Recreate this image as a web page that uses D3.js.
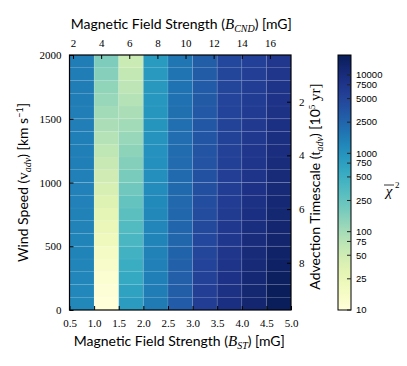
<!DOCTYPE html>
<html>
<head>
<meta charset="utf-8">
<script src="https://cdn.jsdelivr.net/npm/d3@7"></script>
<style>
  body { margin: 0; background: #fff; }
  .tick-num { font-family: "Liberation Serif", serif; font-size: 11px; fill: #000; }
  .label { font-family: "Lato", "DejaVu Sans", sans-serif; font-size: 14px; fill: #000; }
  .cb-num { font-family: "Liberation Sans", sans-serif; font-size: 9.5px; fill: #000; }
</style>
</head>
<body>
<div id="chart"></div>
<script>
// bin edges of the grid
const fieldEdges = [0.5, 1.0, 1.5, 2.0, 2.5, 3.0, 3.5, 4.0, 4.5, 5.0];
const speedEdges = d3.range(0, 2001, 100);

// reduced chi^2 per B_ST column, rows from v=0 (bottom) to v=2000 (top)
const chiCol1 = [1250, 1280, 1300, 1320, 1340, 1360, 1380, 1400, 1420, 1440, 1460, 1480, 1500, 1500, 1520, 1520, 1540, 1550, 1550, 1560];
const chiCol2 = [10, 11, 12, 14, 17, 21, 25, 30, 36, 43, 50, 58, 68, 80, 92, 105, 120, 135, 155, 175];
const chiCol3 = [800, 700, 600, 520, 450, 390, 340, 290, 250, 215, 185, 160, 140, 120, 105, 92, 80, 70, 62, 55];
const chiCol4 = [1600, 1550, 1500, 1450, 1400, 1350, 1300, 1250, 1200, 1150, 1100, 1060, 1020, 980, 950, 920, 900, 880, 860, 840];
const chiCol5 = [3000, 2900, 2800, 2700, 2600, 2500, 2450, 2400, 2350, 2300, 2250, 2200, 2150, 2100, 2050, 2000, 1950, 1900, 1850, 1800];
const chiCol6 = [6000, 5700, 5400, 5100, 4900, 4700, 4500, 4300, 4100, 3900, 3750, 3600, 3500, 3400, 3300, 3200, 3100, 3000, 2950, 2900];
const chiCol7 = [9000, 8600, 8200, 7800, 7400, 7000, 6700, 6400, 6200, 6000, 5800, 5600, 5400, 5300, 5200, 5100, 5000, 4900, 4800, 4700];
const chiCol8 = [12500, 12000, 11500, 11000, 10500, 10000, 9500, 9000, 8600, 8200, 7800, 7500, 7200, 6900, 6600, 6300, 6100, 5900, 5700, 5500];
const chiCol9 = [17500, 17000, 16000, 15000, 14000, 13000, 12500, 12000, 11500, 11000, 10500, 10000, 9600, 9200, 8800, 8400, 8000, 7700, 7400, 7100];
const chiColumns = [chiCol1, chiCol2, chiCol3, chiCol4, chiCol5, chiCol6, chiCol7, chiCol8, chiCol9];

// tick labels
const bstTicks = [0.5, 1.0, 1.5, 2.0, 2.5, 3.0, 3.5, 4.0, 4.5, 5.0];
const bcndTicks = [2, 4, 6, 8, 10, 12, 14, 16];
const speedTicks = [0, 500, 1000, 1500, 2000];
const tadvTicks = [2, 4, 6, 8];
const cbTicks = [10, 25, 50, 75, 100, 250, 500, 750, 1000, 2500, 5000, 7500, 10000];

const width = 407, height = 366;
const plot = { left: 69.5, right: 291, top: 55, bottom: 310 };
const cbar = { left: 338, right: 351 };

const svg = d3.select('#chart')
    .append('svg')
    .attr('width', width)
    .attr('height', height);

const x = d3.scaleLinear().domain([0.5, 5.0]).range([plot.left, plot.right]);
const xTop = d3.scaleLinear().domain([1.75, 17.5]).range([plot.left, plot.right]);
const y = d3.scaleLinear().domain([0, 2000]).range([plot.bottom, plot.top]);
const yRight = d3.scaleLinear().domain([0.26, 9.76]).range([plot.top, plot.bottom]);
const color = d3.scaleSequentialLog(d3.interpolateYlGnBu).domain([10, 18000]);

// cells
const cells = [];
chiColumns.forEach((col, i) => {
    col.forEach((v, j) => {
        cells.push({ x0: fieldEdges[i], x1: fieldEdges[i + 1], y0: speedEdges[j], y1: speedEdges[j + 1], v });
    });
});

svg.append('g')
    .selectAll('rect')
    .data(cells)
    .enter()
    .append('rect')
    .attr('x', d => x(d.x0))
    .attr('y', d => y(d.y1))
    .attr('width', d => x(d.x1) - x(d.x0))
    .attr('height', d => y(d.y0) - y(d.y1))
    .attr('fill', d => color(d.v))
    .attr('stroke', '#ffffff')
    .attr('stroke-opacity', 0.05)
    .attr('stroke-width', 0.8);

// faint grid
const grid = svg.append('g').attr('stroke', '#ffffff').attr('stroke-opacity', 0.12).attr('stroke-width', 0.8);
grid.selectAll('.gx').data(bstTicks.slice(1, -1)).enter().append('line')
    .attr('x1', d => x(d)).attr('x2', d => x(d)).attr('y1', plot.top).attr('y2', plot.bottom);
grid.selectAll('.gy').data(speedTicks.slice(1, -1)).enter().append('line')
    .attr('y1', d => y(d)).attr('y2', d => y(d)).attr('x1', plot.left).attr('x2', plot.right);

// axes with inward ticks
function styleAxis(g) {
    g.select('.domain').remove();
    g.selectAll('.tick line').attr('stroke', '#000').attr('stroke-width', 1);
    g.selectAll('.tick text').attr('class', 'tick-num').attr('fill', null).style('font-family', null).style('font-size', null);
}

svg.append('g')
    .attr('transform', `translate(0, ${plot.bottom})`)
    .call(d3.axisBottom(x).tickValues(bstTicks).tickFormat(d3.format('.1f')).tickSizeInner(-4).tickPadding(9))
    .attr('font-size', null).attr('font-family', null)
    .call(styleAxis);

svg.append('g')
    .attr('transform', `translate(${plot.left}, 0)`)
    .call(d3.axisLeft(y).tickValues(speedTicks).tickFormat(d3.format('d')).tickSizeInner(-4).tickPadding(8))
    .attr('font-size', null).attr('font-family', null)
    .call(styleAxis);

svg.append('g')
    .attr('transform', `translate(0, ${plot.top})`)
    .call(d3.axisTop(xTop).tickValues(bcndTicks).tickSizeInner(-4).tickPadding(8))
    .attr('font-size', null).attr('font-family', null)
    .call(styleAxis);

svg.append('g')
    .attr('transform', `translate(${plot.right}, 0)`)
    .call(d3.axisRight(yRight).tickValues(tadvTicks).tickSizeInner(-4).tickPadding(8))
    .attr('font-size', null).attr('font-family', null)
    .call(styleAxis);

svg.append('rect')
    .attr('x', plot.left).attr('y', plot.top)
    .attr('width', plot.right - plot.left).attr('height', plot.bottom - plot.top)
    .attr('fill', 'none').attr('stroke', '#000').attr('stroke-width', 1.2);

// axis titles
function mathLabel(sel, pre, sym, sub, post, symItalic) {
    sel.append('tspan').text(pre);
    sel.append('tspan').text(sym)
        .style('font-family', '"Liberation Serif", serif')
        .style('font-style', symItalic ? 'italic' : 'normal')
        .style('font-size', '15px');
    sel.append('tspan').text(sub)
        .attr('dy', 3)
        .style('font-family', '"Liberation Serif", serif')
        .style('font-style', 'italic')
        .style('font-size', '10px');
    sel.append('tspan').text(post).attr('dy', -3);
}

svg.append('text').attr('class', 'label')
    .attr('x', (plot.left + plot.right) / 2 - 1).attr('y', 346)
    .attr('text-anchor', 'middle')
    .call(mathLabel, 'Magnetic Field Strength (', 'B', 'ST', ') [mG]', true);

svg.append('text').attr('class', 'label')
    .attr('x', (plot.left + plot.right) / 2 + 1).attr('y', 29)
    .attr('text-anchor', 'middle')
    .call(mathLabel, 'Magnetic Field Strength (', 'B', 'CND', ') [mG]', true);

const yl = svg.append('text').attr('class', 'label')
    .attr('transform', `translate(28, ${(plot.top + plot.bottom) / 2}) rotate(-90)`)
    .attr('text-anchor', 'middle');
yl.call(mathLabel, 'Wind Speed (', 'v', 'adv', ') [km s', false);
yl.append('tspan').text('−1').attr('dy', -5).style('font-size', '9px');
yl.append('tspan').text(']').attr('dy', 5);

const rl = svg.append('text').attr('class', 'label')
    .attr('transform', `translate(320, ${(plot.top + plot.bottom) / 2 + 4}) rotate(-90)`)
    .attr('text-anchor', 'middle');
rl.call(mathLabel, 'Advection Timescale (', 't', 'adv', ') [10', false);
rl.append('tspan').text('5').attr('dy', -5).style('font-size', '9px')
    .style('font-family', '"Liberation Serif", serif');
rl.append('tspan').text(' yr]').attr('dy', 5)
    .style('font-family', '"Liberation Serif", serif').style('font-size', '15px');

// colorbar
const cy = d3.scaleLog().domain([10, 18000]).range([plot.bottom, plot.top]);
const defs = svg.append('defs');
const grad = defs.append('linearGradient')
    .attr('id', 'cbgrad')
    .attr('x1', 0).attr('y1', 1).attr('x2', 0).attr('y2', 0);
d3.range(0, 1.0001, 0.05).forEach(t => {
    grad.append('stop')
        .attr('offset', t)
        .attr('stop-color', d3.interpolateYlGnBu(t));
});

svg.append('rect')
    .attr('x', cbar.left).attr('y', plot.top)
    .attr('width', cbar.right - cbar.left).attr('height', plot.bottom - plot.top)
    .attr('fill', 'url(#cbgrad)')
    .attr('stroke', '#000').attr('stroke-width', 1);

const cbAxis = svg.append('g').attr('class', 'cb-axis');
cbAxis.selectAll('line').data(cbTicks).enter().append('line')
    .attr('x1', cbar.right - 4).attr('x2', cbar.right)
    .attr('y1', d => cy(d)).attr('y2', d => cy(d))
    .attr('stroke', '#222').attr('stroke-width', 1);
cbAxis.selectAll('text').data(cbTicks).enter().append('text')
    .attr('class', 'cb-num')
    .attr('x', cbar.right + 5)
    .attr('y', d => cy(d))
    .attr('dy', '0.35em')
    .text(d => d);

// colorbar label: overlined chi squared
const cbl = svg.append('g').attr('transform', 'translate(389, 196)');
cbl.append('text')
    .attr('text-anchor', 'middle')
    .style('font-family', '"Liberation Serif", serif')
    .style('font-style', 'italic')
    .style('font-size', '15px')
    .text('χ');
cbl.append('text')
    .attr('x', 6).attr('y', -8)
    .style('font-family', '"Liberation Serif", serif')
    .style('font-size', '9px')
    .text('2');
cbl.append('line')
    .attr('x1', -5).attr('x2', 5).attr('y1', -11).attr('y2', -11)
    .attr('stroke', '#000').attr('stroke-width', 0.8);
</script>
</body>
</html>
